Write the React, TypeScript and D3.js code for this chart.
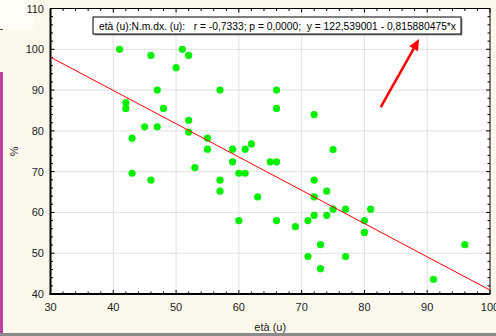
import React from 'react';
import * as d3 from 'd3';

// età (u) vs N.m.dx. (u) %
const ages = [41, 46, 51, 52, 50, 47, 57, 42, 42, 48, 52, 45, 47, 52, 43, 55, 55, 59, 61, 62,
  59, 53, 43, 60, 61, 46, 57, 57, 63, 60, 66, 66, 72, 75, 65, 66, 72, 74, 72, 75,
  77, 81, 66, 69, 71, 72, 74, 80, 80, 73, 96, 71, 77, 73, 91];
const values = [100, 98.5, 100, 98.5, 95.5, 90, 90, 86.9, 85.5, 85.5, 82.6, 81, 81, 79.7, 78.2, 78.2, 75.5, 75.5, 75.5, 76.8,
  72.4, 71, 69.6, 69.6, 69.6, 67.9, 67.9, 65.2, 63.8, 58, 85.5, 90, 84, 75.4, 72.4, 72.4, 67.9, 65.2, 63.8, 60.8,
  60.8, 60.8, 58, 56.5, 58, 59.3, 59.3, 58, 55.1, 52.1, 52.1, 49.2, 49.2, 46.2, 43.6];
const xTicks = [30, 40, 50, 60, 70, 80, 90, 100];
const yTicks = [40, 50, 60, 70, 80, 90, 100, 110];
const intercept = 122.539001;
const slope = -0.815880475;
const label = 'età (u):N.m.dx. (u):   r = -0,7333; p = 0,0000;  y = 122,539001 - 0,815880475*x';
// arrow from/to, in data units
const arrowFrom = [82.6, 85.8];
const arrowTo = [88.7, 102.5];

const W = 496, H = 336;
const margin = { top: 8.5, right: 6, bottom: 42, left: 50.5 };
const FONT = '"Liberation Sans", Arial, sans-serif';

export default function App() {
  const x = d3.scaleLinear().domain([30, 100]).range([margin.left, W - margin.right]);
  const y = d3.scaleLinear().domain([40, 110]).range([H - margin.bottom, margin.top]);
  const [x0, x1] = x.range();
  const [y0, y1] = [y(110), y(40)];

  const minorX = d3.range(30, 100.1, 2);
  const minorY = d3.range(40, 110.1, 2);

  const line = d3.line<number>().x(d => x(d)).y(d => y(intercept + slope * d));

  const ax = x(arrowFrom[0]), ay = y(arrowFrom[1]);
  const bx = x(arrowTo[0]), by = y(arrowTo[1]);
  const ang = Math.atan2(by - ay, bx - ax);
  const hl = 11, hw = 5;
  const head = [
    [bx, by],
    [bx - hl * Math.cos(ang) + hw * Math.sin(ang), by - hl * Math.sin(ang) - hw * Math.cos(ang)],
    [bx - hl * Math.cos(ang) - hw * Math.sin(ang), by - hl * Math.sin(ang) + hw * Math.cos(ang)],
  ].map(p => p.join(',')).join(' ');

  return (
    <div style={{ position: 'absolute', left: 0, top: 0 }}>
      <svg width={W} height={H} style={{ display: 'block', fontFamily: FONT }}>
        <rect x={0} y={0} width={W} height={H} fill="#fdf8ec" />
        <rect x={0} y={0} width={34} height={29} fill="#fffdf6" />
        <line x1={0} x2={3} y1={29.5} y2={29.5} stroke="#444" />
        <rect x={0} y={72} width={3} height={261} fill="#b5459f" />
        <rect x={0} y={333} width={W} height={3} fill="#8a8a8a" />

        <rect x={x0} y={y0} width={x1 - x0} height={y1 - y0} fill="#fff" />

        {/* grid */}
        {xTicks.slice(1, -1).map(t => (
          <line key={'gx' + t} x1={x(t)} x2={x(t)} y1={y0} y2={y1} stroke="#c4c4c4" strokeDasharray="1,1" />
        ))}
        {yTicks.slice(1, -1).map(t => (
          <line key={'gy' + t} x1={x0} x2={x1} y1={y(t)} y2={y(t)} stroke="#c4c4c4" strokeDasharray="1,1" />
        ))}

        {/* minor/major ticks inside frame */}
        {minorX.map(t => {
          const len = t % 10 === 0 ? 4 : 2.5;
          return (
            <g key={'tx' + t}>
              <line x1={x(t)} x2={x(t)} y1={y1} y2={y1 - len} stroke="#000" />
              <line x1={x(t)} x2={x(t)} y1={y0} y2={y0 + len} stroke="#000" />
            </g>
          );
        })}
        {minorY.map(t => {
          const len = t % 10 === 0 ? 4 : 2.5;
          return (
            <g key={'ty' + t}>
              <line x1={x0} x2={x0 + len} y1={y(t)} y2={y(t)} stroke="#000" />
              <line x1={x1} x2={x1 - len} y1={y(t)} y2={y(t)} stroke="#000" />
            </g>
          );
        })}
        <rect x={x0} y={y0} width={x1 - x0} height={y1 - y0} fill="none" stroke="#000" strokeWidth={1} />
        <line x1={x0} x2={x0} y1={y0} y2={y1 + 1} stroke="#000" strokeWidth={2} />
        <line x1={x0 - 1} x2={x1} y1={y1} y2={y1} stroke="#000" strokeWidth={2} />

        {/* points */}
        {ages.map((a, i) => (
          <circle key={i} cx={x(a)} cy={y(values[i])} r={3.6} fill="#00f000" />
        ))}

        {/* regression */}
        <path d={line([30, 100]) || ''} fill="none" stroke="#ff0000" strokeWidth={1} />

        {/* annotation */}
        <rect x={94.5} y={18.5} width={368} height={17} fill="#999" />
        <rect x={93} y={17} width={368} height={17} fill="#fff" stroke="#000" strokeWidth={1} />
        <text x={99} y={29.5} fontSize={11} fill="#000" textLength={357} lengthAdjust="spacingAndGlyphs"
          style={{ whiteSpace: 'pre' }}>{label}</text>

        <line x1={ax} y1={ay} x2={bx - 8 * Math.cos(ang)} y2={by - 8 * Math.sin(ang)} stroke="#ff0000" strokeWidth={2.5} />
        <polygon points={head} fill="#ff0000" />

        {/* tick labels */}
        {xTicks.map(t => (
          <text key={'lx' + t} x={x(t)} y={311} fontSize={11} fill="#222" textAnchor="middle">{t}</text>
        ))}
        {yTicks.map(t => (
          <text key={'ly' + t} x={44} y={y(t) + 4} fontSize={11} fill="#222" textAnchor="end">{t}</text>
        ))}

        <text x={(x0 + x1) / 2} y={331} fontSize={11} fill="#222" textAnchor="middle">età (u)</text>
        <text transform={`translate(18,${(y0 + y1) / 2}) rotate(-90)`} fontSize={11} fill="#222" textAnchor="middle">%</text>
      </svg>
    </div>
  );
}
